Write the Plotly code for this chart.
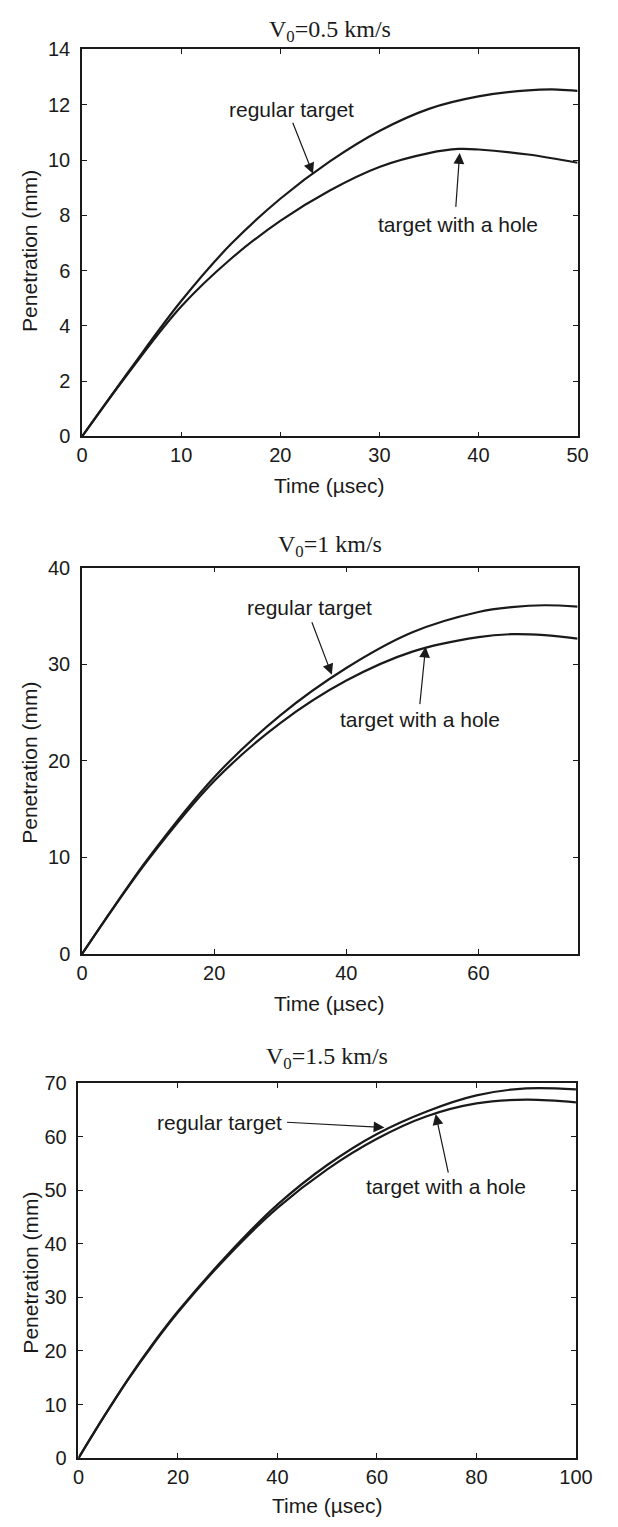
import plotly.graph_objects as go

# ---- data: penetration (mm) vs time (µsec) ----
t1 = [0, 5, 10, 15, 20, 25, 30, 35, 40, 45, 48, 50]
reg1 = [0, 2.5, 4.9, 6.95, 8.6, 9.95, 11.05, 11.85, 12.3, 12.52, 12.55, 12.5]
t1h = [0, 5, 10, 15, 20, 25, 30, 35, 38, 40, 45, 50]
hole1 = [0, 2.45, 4.7, 6.42, 7.8, 8.9, 9.75, 10.25, 10.4, 10.38, 10.2, 9.9]

t2 = [0, 5, 10, 20, 30, 40, 50, 60, 65, 70, 75]
reg2 = [0, 5.05, 9.9, 18.3, 24.7, 29.6, 33.3, 35.4, 35.9, 36.1, 35.95]
hole2 = [0, 5.0, 9.75, 17.9, 23.9, 28.3, 31.3, 32.8, 33.1, 33.0, 32.65]

t3 = [0, 5, 10, 15, 20, 30, 40, 50, 60, 70, 80, 90, 100]
reg3 = [0, 7.6, 14.8, 21.4, 27.4, 38.0, 47.3, 54.7, 60.5, 64.7, 67.7, 69.0, 68.8]
hole3 = [0, 7.55, 14.7, 21.2, 27.2, 37.7, 46.7, 53.9, 59.6, 63.8, 66.2, 66.9, 66.4]

titles = ["V<sub>0</sub>=0.5 km/s", "V<sub>0</sub>=1 km/s", "V<sub>0</sub>=1.5 km/s"]
x_ranges = [[0, 50], [0, 75], [0, 100]]
y_ranges = [[0, 14], [0, 40], [0, 70]]
x_dticks = [10, 20, 20]
y_dticks = [2, 10, 10]

# curve labels (data units): text centre, arrow tail, arrow tip
reg_labels = [(21.1, 11.83, 21.2, 11.4, 23.3, 9.5),
              (34.4, 35.9, 34.7, 34.5, 37.8, 28.9),
              (28.4, 62.6, 41.6, 62.7, 61.5, 61.7)]
hole_labels = [(37.9, 7.65, 37.7, 8.25, 38.1, 10.25),
               (51.1, 24.25, 51.1, 25.7, 52.0, 31.8),
               (73.9, 50.6, 74.4, 53.0, 71.8, 64.2)]

W, H = 618, 1527
# panel boxes in pixels: left, right, top, bottom
boxes = [(79, 593.7, 39, 431.7), (79, 593.7, 564.7, 956.7), (75.3, 592, 1087.7, 1468.3)]
title_gap = [19, 22, 25]
xlabel_gap = [50, 50, 48]
ylabel_shift = [8, 2, 2]

INK = "#1a1a1a"
SANS = "Liberation Sans, Arial, sans-serif"
SERIF = "Liberation Serif, Times New Roman, serif"

series = [(t1, reg1, t1h, hole1), (t2, reg2, t2, hole2), (t3, reg3, t3, hole3)]

fig = go.Figure()
annotations = []
layout = {}

for i, (tr, yr, th, yh) in enumerate(series):
    xa = "x" if i == 0 else f"x{i+1}"
    ya = "y" if i == 0 else f"y{i+1}"
    for xs, ys in ((tr, yr), (th, yh)):
        fig.add_trace(go.Scatter(x=xs, y=ys, mode="lines", xaxis=xa, yaxis=ya,
                                 line=dict(color=INK, width=2.2, shape="spline", smoothing=1.0),
                                 showlegend=False, hoverinfo="skip"))
    l, r, t, b = boxes[i]
    axcommon = dict(showline=True, mirror="ticks", linecolor=INK, linewidth=1.6,
                    ticks="inside", ticklen=5, tickcolor=INK, tickwidth=1,
                    showgrid=False, zeroline=False,
                    tickfont=dict(family=SANS, size=20, color=INK))
    layout["xaxis" if i == 0 else f"xaxis{i+1}"] = dict(
        axcommon, domain=[l / W, r / W], range=x_ranges[i], dtick=x_dticks[i], tick0=0,
        anchor=ya, ticklabelstandoff=0)
    layout["yaxis" if i == 0 else f"yaxis{i+1}"] = dict(
        axcommon, domain=[1 - b / H, 1 - t / H], range=y_ranges[i], dtick=y_dticks[i], tick0=0,
        anchor=xa, ticklabelstandoff=6)

    # panel title
    annotations.append(dict(text=titles[i], xref="paper", yref="paper",
                            x=(l + r) / 2 / W, y=1 - (t - title_gap[i]) / H, showarrow=False,
                            xanchor="center", yanchor="middle",
                            font=dict(family=SERIF, size=24, color=INK)))
    # axis titles
    annotations.append(dict(text="Time (\u00b5sec)", xref="paper", yref="paper",
                            x=(l + r) / 2 / W, y=1 - (b + xlabel_gap[i]) / H, showarrow=False,
                            xanchor="center", yanchor="middle",
                            font=dict(family=SANS, size=21, color=INK)))
    annotations.append(dict(text="Penetration (mm)", xref="paper", yref="paper",
                            x=25 / W, y=1 - ((t + b) / 2 + ylabel_shift[i]) / H,
                            showarrow=False, textangle=-90,
                            xanchor="center", yanchor="middle",
                            font=dict(family=SANS, size=21, color=INK)))

    # curve labels with arrows
    for lab, (tx, ty, axx, ayy, hx, hy) in (("regular target", reg_labels[i]),
                                            ("target with a hole", hole_labels[i])):
        annotations.append(dict(text=lab, x=tx, y=ty, xref=xa, yref=ya, showarrow=False,
                                xanchor="center", yanchor="middle",
                                font=dict(family=SANS, size=21, color=INK)))
        annotations.append(dict(text="", x=hx, y=hy, ax=axx, ay=ayy, xref=xa, yref=ya,
                                axref=xa, ayref=ya, showarrow=True, arrowhead=2,
                                arrowsize=1.8, arrowwidth=1.2, arrowcolor=INK, standoff=0))

fig.update_layout(**layout)
fig.update_layout(width=W, height=H, margin=dict(l=0, r=0, t=0, b=0),
                  paper_bgcolor="white", plot_bgcolor="white",
                  annotations=annotations)

fig.write_html("out.html")
